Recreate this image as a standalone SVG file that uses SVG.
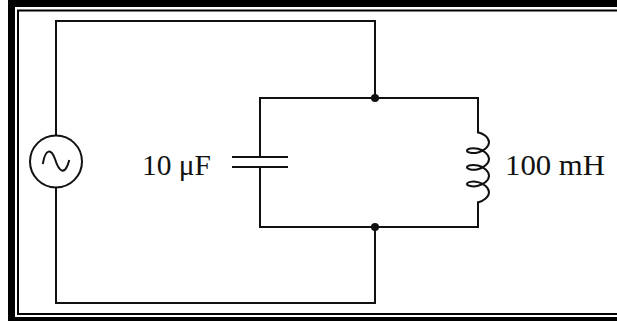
<svg xmlns="http://www.w3.org/2000/svg" width="617" height="321" viewBox="0 0 617 321">
<style>
.w{fill:none;stroke:#111;stroke-width:2;stroke-linecap:square;stroke-linejoin:miter}
.lbl{font-family:"Liberation Serif","Times New Roman",serif;font-size:29px;fill:#111}
.dot{fill:#111}
</style>
<rect width="617" height="321" fill="#fff"/>
<g id="frame">
<rect x="11.5" y="3.5" width="612" height="317" fill="none" stroke="#000" stroke-width="7"/>
<rect x="18" y="10.5" width="604" height="303.5" fill="none" stroke="#000" stroke-width="2"/>
</g>
<g id="connectors">
<path class="w" d="M56,135.5 V21 H375 V98"/>
<path class="w" d="M56,187.5 V303 H375 V227"/>
<path class="w" d="M260,157 V98 H478 V132.2"/>
<path class="w" d="M260,167 V227 H478 V202.4"/>
</g>
<g id="source">
<circle cx="56" cy="161.5" r="26" fill="#fff" stroke="#111" stroke-width="2"/>
<path class="w" d="M43,163 C45.5,149 51,148 55,159 C59,172 65,176 69,161" stroke-linecap="round"/>
</g>
<g id="capacitor">
<line class="w" x1="233" y1="157" x2="287" y2="157"/>
<line class="w" x1="233" y1="167" x2="287" y2="167"/>
<text class="lbl" x="142" y="175" textLength="69" lengthAdjust="spacingAndGlyphs">10 μF</text>
</g>
<g id="inductor">
<path class="w" stroke-linecap="butt" d="M478,132.2 c5.76,1.39 11,5.64 11,10.165
c0,4.53 -5.24,8.77 -11,10.16 c-5.76,1.39 -11,-0.09 -11,-1.84 c0,-1.75 5.24,-3.23 11,-1.84 c5.76,1.39 11,5.64 11,10.165
c0,4.53 -5.24,8.77 -11,10.16 c-5.76,1.39 -11,-0.09 -11,-1.84 c0,-1.75 5.24,-3.23 11,-1.84 c5.76,1.39 11,5.64 11,10.165
c0,4.53 -5.24,8.77 -11,10.16 c-5.76,1.39 -11,-0.09 -11,-1.84 c0,-1.75 5.24,-3.23 11,-1.84 c5.76,1.39 11,5.64 11,10.165
c0,4.53 -5.24,8.77 -11,10.16"/>
<text class="lbl" x="505" y="175" textLength="100" lengthAdjust="spacingAndGlyphs">100 mH</text>
</g>
<g id="junctions">
<circle class="dot" cx="375" cy="98" r="4"/>
<circle class="dot" cx="375" cy="227" r="4"/>
</g>
</svg>
